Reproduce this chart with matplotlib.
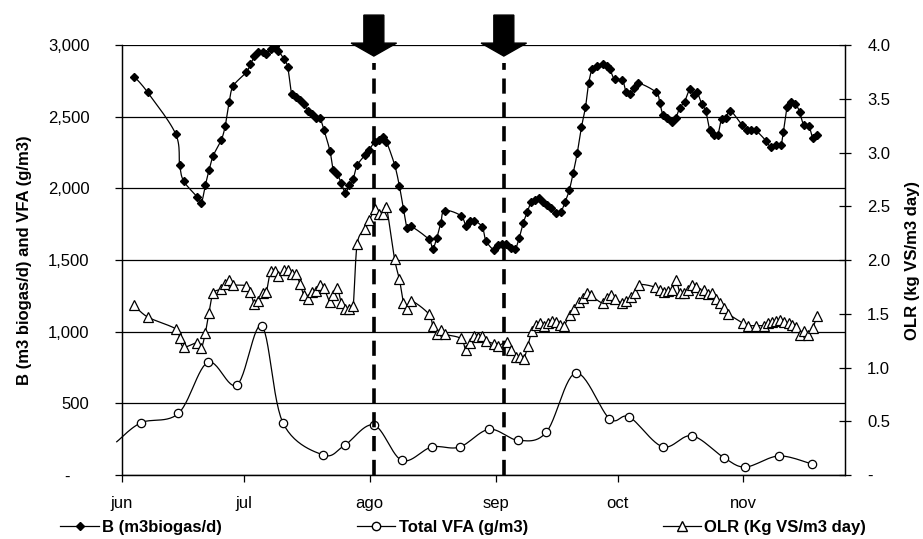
import numpy as np
import matplotlib
matplotlib.use('Agg')
import matplotlib.pyplot as plt
from matplotlib.lines import Line2D
from matplotlib.patches import Polygon
from matplotlib.transforms import blended_transform_factory

plt.rcParams['font.family'] = ['Liberation Sans', 'DejaVu Sans']
plt.rcParams['font.size'] = 12

# days counted from 1 June
month_days = [0, 30, 61, 92, 122, 153]
month_labels = ['jun', 'jul', 'ago', 'sep', 'oct', 'nov']
event_days = [62, 94]

b_day = [3.0, 6.3, 13.2, 14.2, 15.2, 18.5, 19.5, 20.5, 21.4, 22.4,
         24.4, 25.4, 26.4, 27.4, 30.6, 31.6, 32.6, 33.6, 34.6, 35.5,
         36.6, 37.6, 38.5, 39.9, 40.8, 41.8, 42.8, 43.8, 44.8, 45.8,
         46.8, 47.7, 48.7, 49.7, 51.2, 52.0, 53.0, 54.0, 55.0, 55.9,
         56.9, 57.9, 59.9, 60.9, 62.2, 63.2, 64.2, 65.1, 67.1, 68.3,
         69.3, 70.2, 71.2, 75.5, 76.5, 77.5, 78.5, 79.4, 83.4, 84.7,
         85.7, 86.7, 88.7, 89.6, 91.6, 92.6, 93.5, 94.5, 95.8, 96.8,
         97.8, 98.8, 99.8, 100.7, 101.7, 102.7, 103.7, 104.7, 105.7, 106.8,
         108.0, 109.1, 110.1, 111.1, 112.1, 113.1, 114.1, 114.9, 115.8, 117.0,
         118.3, 119.3, 120.1, 121.3, 123.2, 124.1, 125.1, 126.1, 127.1, 131.5,
         132.4, 133.2, 134.2, 135.3, 136.3, 137.3, 138.5, 139.8, 140.7, 141.6,
         142.7, 143.7, 144.7, 145.7, 146.7, 147.6, 148.6, 149.8, 152.7, 153.9,
         154.8, 156.0, 158.6, 159.7, 160.9, 162.2, 162.8, 163.8, 164.8, 165.8,
         166.8, 167.8, 169.1, 170.1, 171.1]
b_val = [2780, 2670, 2380, 2160, 2050, 1940, 1895, 2020, 2125, 2225,
         2335, 2435, 2605, 2715, 2810, 2865, 2920, 2950, 2950, 2940,
         2975, 2990, 2960, 2900, 2845, 2655, 2635, 2615, 2585, 2540,
         2520, 2490, 2490, 2410, 2260, 2130, 2100, 2035, 1970, 2020,
         2065, 2160, 2235, 2270, 2325, 2335, 2355, 2325, 2165, 2015,
         1855, 1725, 1735, 1645, 1580, 1655, 1760, 1845, 1810, 1740,
         1775, 1775, 1730, 1635, 1570, 1605, 1610, 1610, 1585, 1575,
         1655, 1760, 1835, 1905, 1920, 1935, 1905, 1885, 1865, 1830,
         1835, 1905, 1985, 2110, 2250, 2425, 2565, 2735, 2835, 2855,
         2870, 2855, 2830, 2760, 2755, 2670, 2660, 2700, 2735, 2670,
         2595, 2510, 2490, 2465, 2490, 2560, 2605, 2690, 2650, 2670,
         2590, 2540, 2410, 2375, 2375, 2485, 2490, 2540, 2440, 2410,
         2410, 2405, 2330, 2285, 2305, 2305, 2390, 2570, 2600, 2590,
         2535, 2445, 2435, 2350, 2370]

# first VFA point sits just left of the axis (no marker shown)
vfa_day = [-1.3, 4.7, 13.9, 21.1, 28.3, 34.4, 39.6, 49.5, 54.8, 62.0,
           68.9, 76.2, 83.1, 90.4, 97.6, 104.5, 111.7, 120.0, 124.9, 133.1,
           140.3, 148.2, 153.5, 161.7, 169.8]
vfa_val = [232, 365, 430, 786, 628, 1040, 365, 140, 207, 349,
           102, 195, 195, 319, 242, 300, 712, 393, 405, 197,
           274, 121, 56, 133, 77]

olr_day = [3.0, 6.3, 13.2, 14.2, 15.2, 18.5, 19.5, 20.5, 21.4, 22.4,
           24.4, 25.4, 26.4, 27.4, 30.6, 31.6, 32.6, 33.6, 34.6, 35.5,
           36.6, 37.6, 38.5, 39.9, 40.8, 41.8, 42.8, 43.8, 44.8, 45.8,
           46.8, 47.7, 48.7, 49.7, 51.2, 52.0, 53.0, 54.0, 55.0, 55.9,
           56.9, 57.9, 59.9, 60.9, 62.2, 63.2, 64.2, 65.1, 67.1, 68.3,
           69.3, 70.2, 71.2, 75.5, 76.5, 77.5, 78.5, 79.4, 83.4, 84.7,
           85.7, 86.7, 87.7, 88.7, 89.6, 91.6, 92.6, 94.8, 95.8, 96.9,
           97.9, 98.9, 99.9, 100.9, 101.9, 102.9, 103.8, 104.8, 105.8, 106.8,
           107.8, 108.8, 110.3, 111.4, 112.4, 113.4, 114.4, 115.4, 118.3, 119.3,
           120.3, 121.3, 123.2, 124.2, 125.2, 126.2, 127.4, 131.1, 132.4, 133.4,
           134.4, 135.4, 136.4, 137.4, 138.4, 139.3, 140.3, 141.3, 142.3, 143.3,
           144.3, 145.3, 146.3, 147.2, 148.2, 149.2, 153.0, 154.0, 156.0, 158.1,
           159.1, 160.1, 161.1, 162.1, 163.1, 164.1, 165.0, 166.0, 167.0, 168.0,
           169.0, 170.1, 171.1]
olr_val = [1.58, 1.47, 1.36, 1.27, 1.19, 1.23, 1.18, 1.32, 1.51, 1.69,
           1.73, 1.78, 1.81, 1.77, 1.76, 1.70, 1.59, 1.62, 1.69, 1.70,
           1.90, 1.90, 1.85, 1.91, 1.91, 1.87, 1.87, 1.78, 1.67, 1.64,
           1.70, 1.71, 1.77, 1.74, 1.61, 1.67, 1.74, 1.60, 1.54, 1.54,
           1.57, 2.15, 2.29, 2.37, 2.47, 2.43, 2.43, 2.49, 2.01, 1.82,
           1.60, 1.54, 1.62, 1.50, 1.39, 1.31, 1.35, 1.31, 1.27, 1.16,
           1.23, 1.29, 1.28, 1.29, 1.25, 1.22, 1.20, 1.24, 1.16, 1.10,
           1.10, 1.08, 1.20, 1.34, 1.40, 1.41, 1.39, 1.41, 1.43, 1.42,
           1.40, 1.39, 1.49, 1.54, 1.61, 1.65, 1.69, 1.67, 1.60, 1.65,
           1.67, 1.64, 1.60, 1.62, 1.66, 1.69, 1.77, 1.75, 1.72, 1.70,
           1.71, 1.72, 1.81, 1.69, 1.69, 1.72, 1.77, 1.75, 1.69, 1.72,
           1.68, 1.69, 1.64, 1.60, 1.55, 1.50, 1.41, 1.39, 1.39, 1.39,
           1.41, 1.42, 1.43, 1.44, 1.42, 1.41, 1.40, 1.38, 1.30, 1.34,
           1.30, 1.37, 1.48]

left_ticks = [0, 500, 1000, 1500, 2000, 2500, 3000]
left_labels = ['-    ', '500', '1,000', '1,500', '2,000', '2,500', '3,000']
right_ticks = [0, 0.5, 1.0, 1.5, 2.0, 2.5, 3.0, 3.5, 4.0]
right_labels = ['-', '0.5', '1.0', '1.5', '2.0', '2.5', '3.0', '3.5', '4.0']


def excel_smooth(x, y, n=14):
    # Bezier smoothing like Excel's "smoothed line"
    p = np.column_stack([x, y]).astype(float)
    out = [p[0]]
    t = np.linspace(0, 1, n)[1:, None]
    for i in range(len(p) - 1):
        p0 = p[i - 1] if i > 0 else p[i]
        p1, p2 = p[i], p[i + 1]
        p3 = p[i + 2] if i + 2 < len(p) else p[i + 1]
        c1 = p1 + (p2 - p0) / 6
        c2 = p2 - (p3 - p1) / 6
        seg = (1 - t)**3 * p1 + 3 * (1 - t)**2 * t * c1 + 3 * (1 - t) * t**2 * c2 + t**3 * p2
        out.extend(seg)
    out = np.array(out)
    return out[:, 0], out[:, 1]


fig = plt.figure(figsize=(9.23, 5.39), dpi=100)
ax = fig.add_axes([0.1322, 0.1187, 0.7833, 0.7978])
ax2 = ax.twinx()

lw = 0.9
xs, ys = excel_smooth(b_day, b_val)
ax.plot(xs, ys, color='k', lw=lw)
ax.plot(b_day, b_val, ls='none', marker='D', ms=4, color='k')

xs, ys = excel_smooth(vfa_day, vfa_val)
ax.plot(xs, ys, color='k', lw=lw, clip_on=False)
ax.plot(vfa_day[1:], vfa_val[1:], ls='none', marker='o', ms=6, mfc='white', mec='k', mew=0.9)

xs, ys = excel_smooth(olr_day, olr_val)
ax2.plot(xs, ys, color='k', lw=lw)
ax2.plot(olr_day, olr_val, ls='none', marker='^', ms=6.5, mfc='white', mec='k', mew=0.9)

# event lines and arrows
for d in event_days:
    ax.plot([d, d], [0, 2875], color='k', lw=2.6, ls=(0, (4.2, 2.4)), zorder=5)
trans = blended_transform_factory(ax.transData, fig.transFigure)
for d in event_days:
    verts = [(d - 2.46, 0.972), (d + 2.46, 0.972), (d + 2.46, 0.920), (d + 5.6, 0.920),
             (d, 0.896), (d - 5.6, 0.920), (d - 2.46, 0.920)]
    fig.patches.append(Polygon(verts, closed=True, transform=trans, color='k', clip_on=False))

ax.set_xlim(0, 178)
ax.set_ylim(0, 3000)
ax2.set_ylim(0, 4)
ax.set_xticks(month_days)
ax.set_xticklabels(month_labels)
ax.set_yticks(left_ticks)
ax.set_yticklabels(left_labels)
ax2.set_yticks(right_ticks)
ax2.set_yticklabels(right_labels)

ax.yaxis.grid(True, color='k', lw=0.9)
ax.set_axisbelow(True)
for a in (ax, ax2):
    a.spines['top'].set_visible(False)
    for s in a.spines.values():
        s.set_linewidth(0.9)
ax.tick_params(axis='x', direction='out', length=5, width=0.9, pad=10)
ax.tick_params(axis='y', direction='out', length=5, width=0.9, pad=18.5)
ax2.tick_params(axis='y', direction='inout', length=8, width=0.9, pad=12)

ax.set_ylabel('B (m3 biogas/d) and VFA (g/m3)', fontweight='bold')
ax.yaxis.set_label_coords(-0.124, 0.5)
ax2.set_ylabel('OLR (kg VS/m3 day)', fontweight='bold')
ax2.yaxis.set_label_coords(1.083, 0.5)

handles = [
    Line2D([], [], color='k', lw=lw, marker='D', ms=4),
    Line2D([], [], color='k', lw=lw, marker='o', ms=6, mfc='white', mec='k'),
    Line2D([], [], color='k', lw=lw, marker='^', ms=6.5, mfc='white', mec='k'),
]
labels = ['B (m3biogas/d)', 'Total VFA (g/m3)', 'OLR (Kg VS/m3 day)']
leg = fig.legend(handles, labels, loc='center', bbox_to_anchor=(0.502, 0.022), ncol=3,
                 frameon=False, columnspacing=8.1, handlelength=2.3, handletextpad=0.2,
                 prop={'weight': 'bold', 'size': 12})

fig.savefig('out.png', dpi=100)
